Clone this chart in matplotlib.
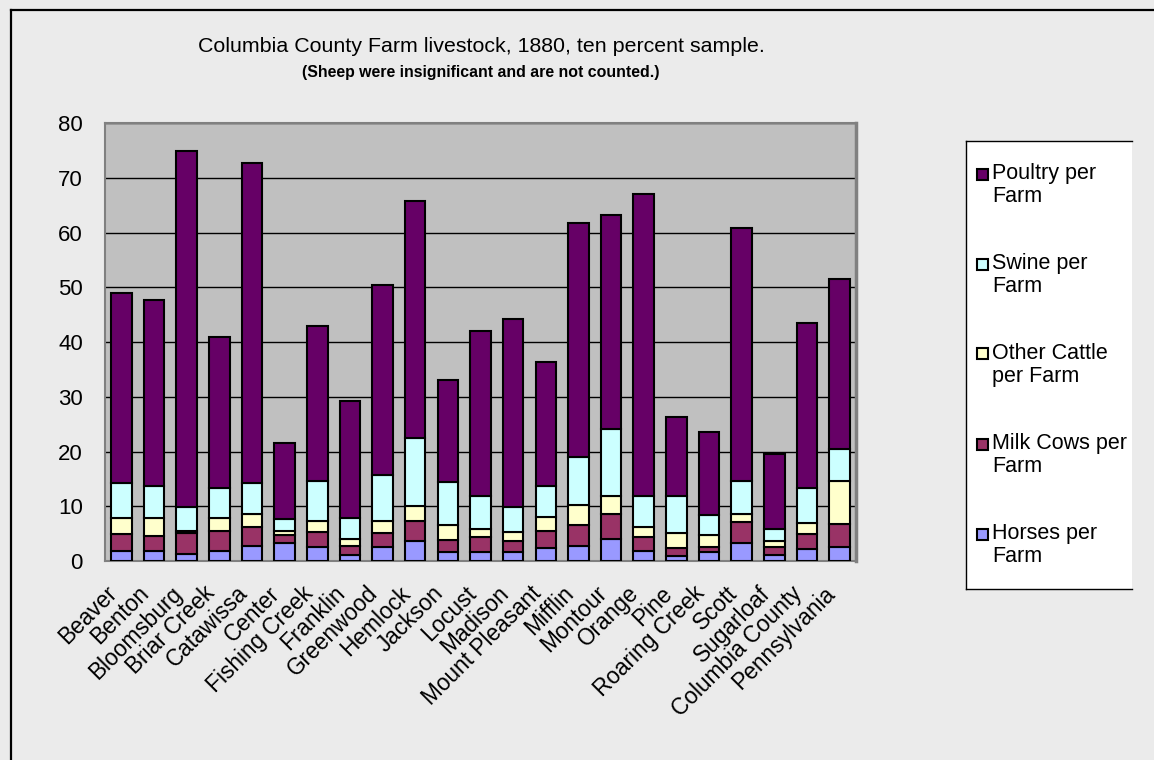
import matplotlib
matplotlib.use('Agg')
import matplotlib.pyplot as plt
import numpy as np
from matplotlib.patches import Rectangle
from matplotlib.lines import Line2D

plt.rcParams['font.family'] = ['Liberation Sans', 'DejaVu Sans']

towns = ['Beaver', 'Benton', 'Bloomsburg', 'Briar Creek', 'Catawissa', 'Center',
         'Fishing Creek', 'Franklin', 'Greenwood', 'Hemlock', 'Jackson', 'Locust',
         'Madison', 'Mount Pleasant', 'Mifflin', 'Montour', 'Orange', 'Pine',
         'Roaring Creek', 'Scott', 'Sugarloaf', 'Columbia County', 'Pennsylvania']

horses = [1.9, 1.9, 1.3, 1.9, 2.8, 3.3, 2.6, 1.1, 2.5, 3.7, 1.7, 1.7,
          1.7, 2.3, 2.7, 4.0, 1.8, 0.9, 1.6, 3.3, 1.1, 2.2, 2.5]
milk_cows = [3.0, 2.7, 3.9, 3.5, 3.5, 1.4, 2.7, 1.6, 2.7, 3.6, 2.1, 2.7,
             1.9, 3.1, 3.8, 4.6, 2.6, 1.5, 1.0, 3.8, 1.5, 2.7, 4.2]
other_cattle = [3.0, 3.3, 0.2, 2.5, 2.2, 0.8, 2.1, 1.3, 2.2, 2.8, 2.8, 1.4,
                1.7, 2.7, 3.8, 3.2, 1.8, 2.7, 2.2, 1.4, 1.0, 2.0, 8.0]
swine = [6.4, 5.8, 4.5, 5.4, 5.8, 2.1, 7.2, 3.9, 8.3, 12.4, 7.8, 6.1,
         4.6, 5.6, 8.7, 12.3, 5.6, 6.7, 3.6, 6.1, 2.2, 6.4, 5.7]
poultry = [34.7, 34.0, 65.1, 27.7, 58.5, 13.9, 28.4, 21.3, 34.7, 43.3, 18.6, 30.1,
           34.4, 22.7, 42.8, 39.2, 55.2, 14.5, 15.1, 46.2, 13.8, 30.2, 31.1]

series_names = ['Horses per\nFarm', 'Milk Cows per\nFarm', 'Other Cattle\nper Farm',
                'Swine per\nFarm', 'Poultry per\nFarm']
series_colors = ['#9999FF', '#993366', '#FFFFCC', '#CCFFFF', '#660066']

W, H = 1154, 760
bg = '#EBEBEB'


def fx(px):
    return px / W


def fy(py):
    return 1 - py / H


fig = plt.figure(figsize=(W / 100, H / 100), dpi=100, facecolor=bg)

# outer chart frame (only left and top visible)
fig.add_artist(Line2D([fx(11), fx(11)], [fy(10), 0], color='black', lw=1.6))
fig.add_artist(Line2D([fx(11), 1], [fy(10), fy(10)], color='black', lw=1.6))

ax = fig.add_axes([fx(105), fy(561), (856 - 105) / W, (561 - 123.3) / H])
ax.set_facecolor('#C0C0C0')

x = np.arange(len(towns))
bottom = np.zeros(len(towns))
for vals, col in zip([horses, milk_cows, other_cattle, swine, poultry], series_colors):
    ax.bar(x, vals, 0.63, bottom=bottom, color=col, edgecolor='black', linewidth=1.5, zorder=3)
    bottom += np.array(vals)

ax.set_xlim(-0.5, len(towns) - 0.5)
ax.set_ylim(0, 80)
ax.set_yticks(np.arange(0, 81, 10))
ax.yaxis.grid(True, color='black', linewidth=1.0, zorder=0)
ax.set_axisbelow(True)
ax.tick_params(axis='y', length=0, pad=16, labelsize=16)
ax.tick_params(axis='x', length=0, pad=15, labelsize=16.3)
ax.set_xticks(x)
ax.set_xticklabels(towns, rotation=45, ha='right', rotation_mode='default')
for s in ax.spines.values():
    s.set_color('#808080')
    s.set_linewidth(1.5)
ax.spines['right'].set_linewidth(2.5)

fig.text(fx(481), fy(47), 'Columbia County Farm livestock, 1880, ten percent sample.',
         ha='center', va='center', fontsize=15.4)
fig.text(fx(481), fy(73), '(Sheep were insignificant and are not counted.)',
         ha='center', va='center', fontsize=11.4, fontweight='bold')

# legend box, clipped on the right like the original
fig.add_artist(Rectangle((fx(966), fy(589)), fx(1132) - fx(966), fy(141) - fy(589),
                         transform=fig.transFigure, facecolor='white', edgecolor='none'))
fig.add_artist(Line2D([fx(966), fx(966)], [fy(141), fy(589)], color='black', lw=1.0))
fig.add_artist(Line2D([fx(966), fx(1132)], [fy(141), fy(141)], color='black', lw=1.0))
fig.add_artist(Line2D([fx(966), fx(1132)], [fy(589), fy(589)], color='black', lw=1.0))

for i, (name, col) in enumerate(zip(series_names[::-1], series_colors[::-1])):
    yc = 174 + i * 90
    fig.add_artist(Rectangle((fx(977), fy(yc + 5.5)), 11 / W, 11 / H,
                             transform=fig.transFigure, facecolor=col,
                             edgecolor='black', linewidth=1.5))
    fig.text(fx(992), fy(yc - 11), name, ha='left', va='top', fontsize=15.5,
             linespacing=1.1)

fig.savefig('out.png', dpi=100, facecolor=bg)
